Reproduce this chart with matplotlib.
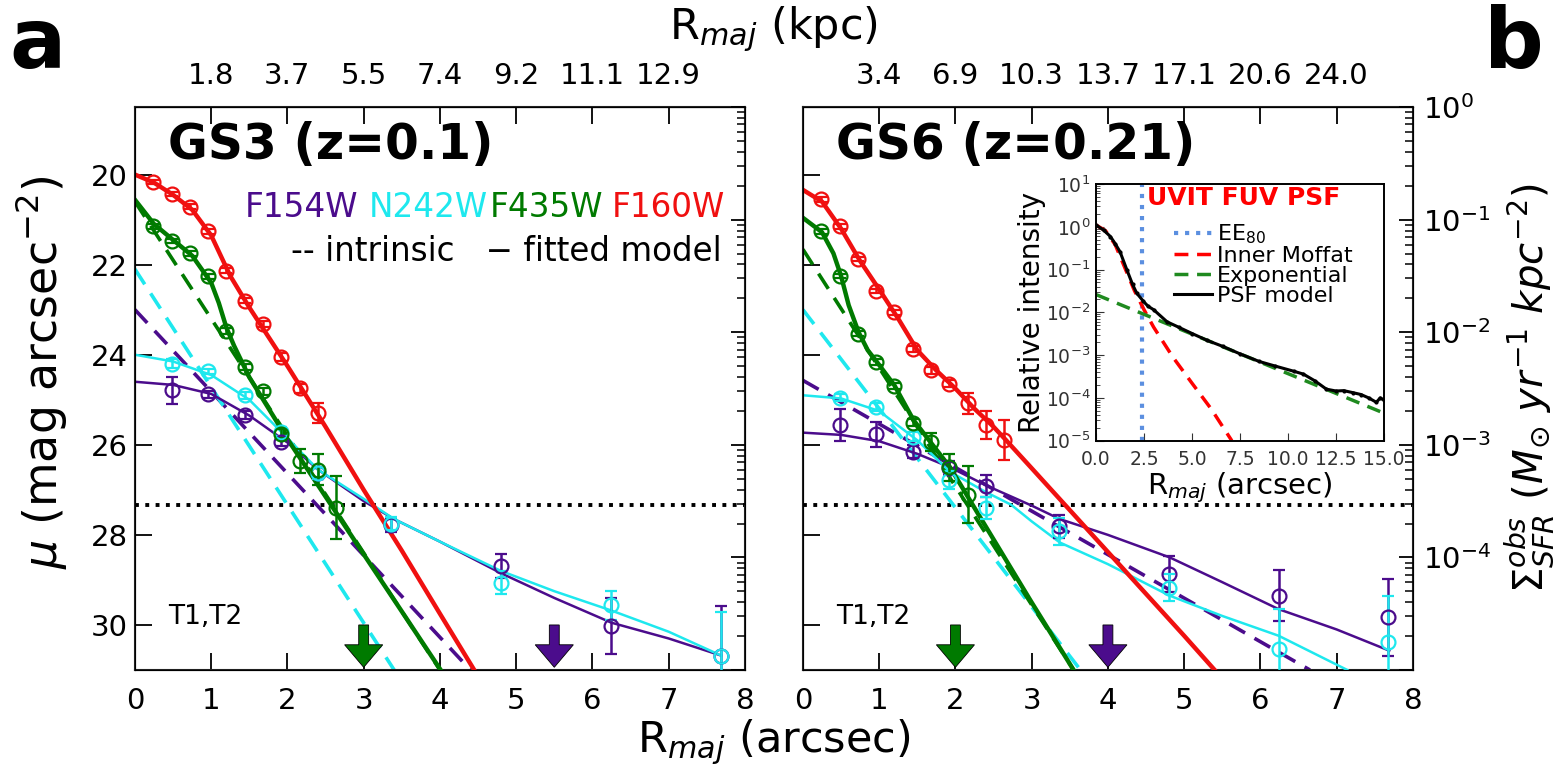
import numpy as np
import matplotlib
matplotlib.use('Agg')
import matplotlib.pyplot as plt
from matplotlib.ticker import FixedLocator, LogLocator, NullFormatter, FormatStrFormatter

plt.rcParams['font.family'] = ['DejaVu Sans']
plt.rcParams['mathtext.fontset'] = 'dejavusans'

PURPLE = '#4b0c8c'
CYAN = '#1ee8ee'
GREEN = '#007a00'
RED = '#f01010'

# ---------------- GS3 (panel a) ----------------
# measured points (optical / IR bins every 0.24", UV bins every 0.48")
gs3_r_opt = [0.24, 0.48, 0.72, 0.96, 1.20, 1.44, 1.68, 1.92, 2.16, 2.40]
gs3_f160w_mu = [20.17, 20.43, 20.71, 21.26, 22.13, 22.80, 23.32, 24.05, 24.74, 25.29]
gs3_f160w_err = [0.05, 0.05, 0.05, 0.05, 0.06, 0.06, 0.07, 0.08, 0.10, 0.22]
gs3_r_b = [0.24, 0.48, 0.72, 0.96, 1.20, 1.44, 1.68, 1.92, 2.16, 2.40, 2.64]
gs3_f435w_mu = [21.15, 21.48, 21.75, 22.26, 23.48, 24.28, 24.81, 25.75, 26.36, 26.55, 27.40]
gs3_f435w_err = [0.05, 0.05, 0.05, 0.06, 0.07, 0.07, 0.08, 0.10, 0.27, 0.35, 0.70]
gs3_r_uv = [0.48, 0.96, 1.44, 1.92, 2.40, 3.36, 4.80, 6.24, 7.68]
gs3_f154w_mu = [24.79, 24.88, 25.34, 25.93, 26.63, 27.79, 28.69, 30.02, 30.68]
gs3_f154w_err = [0.30, 0.08, 0.08, 0.10, 0.12, 0.15, 0.27, 0.62, 1.10]
gs3_n242w_mu = [24.20, 24.37, 24.90, 25.71, 26.63, 27.75, 29.06, 29.56, 30.68]
gs3_n242w_err = [0.10, 0.06, 0.08, 0.10, 0.12, 0.15, 0.25, 0.32, 0.97]

# fitted models (solid)
gs3_f160w_fit_r = [0, 0.25, 0.5, 0.75, 1.0, 1.25, 1.5, 2.0, 2.5, 3.0, 3.5, 4.0, 4.45]
gs3_f160w_fit_mu = [20.0, 20.18, 20.45, 20.78, 21.35, 22.25, 22.95, 24.25, 25.6, 27.0, 28.35, 29.75, 31.0]
gs3_f435w_fit_r = [0, 0.25, 0.5, 0.75, 1.0, 1.1, 1.2, 1.3, 1.5, 2.0, 2.5, 3.0, 3.5, 4.01]
gs3_f435w_fit_mu = [20.56, 21.1, 21.45, 21.8, 22.4, 22.85, 23.4, 23.8, 24.5, 25.87, 27.15, 28.43, 29.7, 31.0]
gs3_n242w_fit_r = [0, 0.5, 1.0, 1.5, 2.0, 2.4, 3.0, 3.4, 4.0, 4.8, 5.5, 6.25, 7.0, 7.69]
gs3_n242w_fit_mu = [24.0, 24.15, 24.45, 25.0, 25.85, 26.55, 27.2, 27.65, 28.15, 28.8, 29.25, 29.68, 30.15, 30.68]
gs3_f154w_fit_r = [0, 0.5, 1.0, 1.5, 2.0, 2.4, 3.0, 3.4, 4.0, 4.8, 5.5, 6.25, 7.0, 7.69]
gs3_f154w_fit_mu = [24.6, 24.67, 24.87, 25.35, 25.95, 26.55, 27.25, 27.65, 28.15, 28.85, 29.4, 29.95, 30.3, 30.68]

# intrinsic models (dashed)
gs3_f435w_int_r = [0, 4.0]
gs3_f435w_int_mu = [20.6, 31.0]
gs3_n242w_int_r = [0, 3.40]
gs3_n242w_int_mu = [22.1, 31.0]
gs3_f154w_int_r = [0, 4.40]
gs3_f154w_int_mu = [23.0, 31.0]

gs3_arrow_x = [3.0, 5.5]
gs3_kpc_labels = ['1.8', '3.7', '5.5', '7.4', '9.2', '11.1', '12.9']

# ---------------- GS6 (panel b) ----------------
gs6_r_opt = [0.24, 0.48, 0.72, 0.96, 1.20, 1.44, 1.68, 1.92, 2.16, 2.40, 2.64]
gs6_f160w_mu = [20.55, 21.15, 21.88, 22.58, 23.06, 23.87, 24.35, 24.64, 25.08, 25.56, 25.89]
gs6_f160w_err = [0.05, 0.05, 0.05, 0.05, 0.06, 0.06, 0.07, 0.08, 0.23, 0.31, 0.44]
gs6_r_b = [0.24, 0.48, 0.72, 0.96, 1.20, 1.44, 1.68, 1.92, 2.16]
gs6_f435w_mu = [21.26, 22.25, 23.53, 24.16, 24.70, 25.51, 25.93, 26.50, 27.11]
gs6_f435w_err = [0.05, 0.05, 0.05, 0.06, 0.07, 0.08, 0.20, 0.30, 0.63]
gs6_r_uv = [0.48, 0.96, 1.44, 1.92, 2.40, 3.36, 4.80, 6.24, 7.68]
gs6_f154w_mu = [25.56, 25.77, 26.15, 26.52, 26.92, 27.81, 28.87, 29.35, 29.83]
gs6_f154w_err = [0.35, 0.27, 0.15, 0.15, 0.25, 0.25, 0.40, 0.57, 0.85]
gs6_n242w_mu = [24.95, 25.16, 25.82, 26.79, 27.40, 27.92, 29.17, 30.53, 30.38]
gs6_n242w_err = [0.08, 0.08, 0.10, 0.20, 0.25, 0.30, 0.30, 0.88, 1.03]

gs6_f160w_fit_r = [0, 0.25, 0.5, 0.75, 1.0, 1.25, 1.5, 1.75, 2.0, 2.25, 2.5, 2.66, 3.0, 3.5, 4.0, 4.5, 5.0, 5.4]
gs6_f160w_fit_mu = [20.34, 20.6, 21.2, 21.92, 22.55, 23.2, 23.9, 24.35, 24.75, 25.2, 25.6, 25.89,
                    26.52, 27.45, 28.38, 29.31, 30.24, 31.0]
gs6_f435w_fit_r = [0, 0.25, 0.4, 0.5, 0.6, 0.73, 0.85, 0.97, 1.2, 1.45, 1.7, 1.93, 2.25, 2.5, 3.0, 3.55]
gs6_f435w_fit_mu = [20.96, 21.28, 21.75, 22.25, 22.9, 23.5, 23.9, 24.16, 24.68, 25.45, 26.0, 26.5,
                    27.4, 28.1, 29.5, 31.0]
gs6_n242w_fit_r = [0, 0.5, 1.0, 1.5, 1.93, 2.4, 2.73, 3.0, 3.37, 4.0, 4.81, 5.5, 6.24, 7.14]
gs6_n242w_fit_mu = [24.9, 24.97, 25.25, 25.9, 26.6, 27.05, 27.33, 27.7, 28.17, 28.65, 29.35, 29.8, 30.24, 31.0]
gs6_f154w_fit_r = [0, 0.5, 1.0, 1.5, 1.93, 2.4, 3.0, 3.37, 4.0, 4.81, 5.5, 6.24, 7.0, 7.69]
gs6_f154w_fit_mu = [25.73, 25.78, 25.92, 26.2, 26.5, 26.9, 27.35, 27.65, 28.0, 28.5, 29.05, 29.65, 30.1, 30.57]

gs6_f435w_int_r = [0, 3.55]
gs6_f435w_int_mu = [21.66, 31.0]
gs6_n242w_int_r = [0, 3.64]
gs6_n242w_int_mu = [23.0, 31.0]
gs6_f154w_int_r = [0, 6.65]
gs6_f154w_int_mu = [24.57, 31.0]

gs6_arrow_x = [2.0, 4.0]
gs6_kpc_labels = ['3.4', '6.9', '10.3', '13.7', '17.1', '20.6', '24.0']

sb_limit = 27.33

# ---------------- inset: UVIT FUV PSF ----------------
psf_r = [0, 0.4, 0.75, 1.0, 1.25, 1.6, 1.9, 2.12, 2.47, 2.7, 3.0, 3.7, 4.3, 5.0, 5.8, 6.6, 7.5,
         8.5, 9.3, 10.3, 10.8, 11.4, 12.0, 12.5, 12.9, 13.4, 13.8, 14.2, 14.6, 14.8, 15.0]
psf_model = [1.1, 0.83, 0.59, 0.40, 0.26, 0.10, 0.045, 0.028, 0.018, 0.014, 0.0115, 6.0e-3,
             4.5e-3, 3.2e-3, 2.2e-3, 1.6e-3, 1.07e-3, 7.1e-4, 5.6e-4, 4.2e-4, 3.6e-4, 2.5e-4,
             1.6e-4, 1.45e-4, 1.48e-4, 1.32e-4, 1.2e-4, 1.0e-4, 7.9e-5, 1.0e-4, 8.9e-5]
moffat_r = [0, 0.5, 1.0, 1.5, 2.0, 2.5, 3.0, 4.0, 5.0, 6.0, 7.07]
moffat_I = [1.1, 0.8, 0.38, 0.11, 0.032, 0.0115, 4.5e-3, 9e-4, 2.2e-4, 5.5e-5, 1.0e-5]
expo_r = [0, 15]
expo_I = [0.026, 4.4e-5]
ee80_r = 2.4


def draw_panel(ax, d, title, arrows, kpc_labels, show_left, show_right):
    # intrinsic (dashed)
    for r, mu, col in d['int']:
        ax.plot(r, mu, ls=(0, (5, 3)), color=col, lw=2.6, zorder=2)
    # fitted models (solid)
    for r, mu, col, lw in d['fit']:
        ax.plot(r, mu, '-', color=col, lw=lw, zorder=3)
    # measurements
    for r, mu, err, col in d['pts']:
        ax.errorbar(r, mu, yerr=err, fmt='o', ms=10, mfc='none', mec=col, mew=1.6,
                    ecolor=col, elinewidth=1.8, capsize=4, capthick=1.8, zorder=4)
    ax.axhline(sb_limit, color='k', ls=':', lw=2.8, zorder=1)
    for x, col in arrows:
        ax.arrow(x, 30.0, 0, 0.94, width=0.13, head_width=0.5, head_length=0.5,
                 length_includes_head=True, fc=col, ec='k', lw=0.6, zorder=5)

    ax.set_xlim(0, 8)
    ax.set_ylim(31, 18.5)
    ax.set_xticks(range(9))
    ax.set_yticks([20, 22, 24, 26, 28, 30])
    ax.tick_params(axis='both', direction='in', length=12, width=1.3, labelsize=21,
                   top=False, right=False, labelleft=show_left)
    ax.tick_params(axis='x', pad=12)
    ax.tick_params(axis='y', pad=5)
    for s in ax.spines.values():
        s.set_linewidth(1.5)
        s.set_color('#222222')

    ax.text(0.43, 19.34, title, fontsize=35, fontweight='bold', va='center', ha='left')
    ax.text(0.43, 29.82, 'T1,T2', fontsize=19, va='center', ha='left')

    sec = ax.secondary_xaxis('top')
    sec.set_xticks(range(1, 8), labels=kpc_labels)
    sec.tick_params(direction='in', length=12, width=1.3, labelsize=21, pad=12)

    tw = ax.twinx()
    tw.set_yscale('log')
    tw.set_ylim(1e-5, 1)
    tw.yaxis.set_major_locator(FixedLocator([1e-5, 1e-4, 1e-3, 1e-2, 1e-1, 1]))
    tw.yaxis.set_minor_locator(LogLocator(base=10, subs=np.arange(2, 10), numticks=20))
    tw.yaxis.set_minor_formatter(NullFormatter())
    tw.tick_params(axis='y', which='major', direction='in', length=10, width=1.3,
                   labelsize=21, pad=7, labelright=show_right)
    tw.tick_params(axis='y', which='minor', direction='in', length=6, width=1.1)
    if show_right:
        labels = ['', r'$10^{-4}$', r'$10^{-3}$', r'$10^{-2}$', r'$10^{-1}$', r'$10^{0}$']
        tw.set_yticklabels(labels)
    return tw


fig = plt.figure(figsize=(15.6, 7.76), dpi=100)
ax1 = fig.add_axes([0.0865, 0.1366, 0.3910, 0.7255])
ax2 = fig.add_axes([0.5147, 0.1366, 0.3910, 0.7255])

gs3 = {
    'int': [(gs3_f154w_int_r, gs3_f154w_int_mu, PURPLE),
            (gs3_n242w_int_r, gs3_n242w_int_mu, CYAN),
            (gs3_f435w_int_r, gs3_f435w_int_mu, GREEN)],
    'fit': [(gs3_f154w_fit_r, gs3_f154w_fit_mu, PURPLE, 1.8),
            (gs3_n242w_fit_r, gs3_n242w_fit_mu, CYAN, 1.8),
            (gs3_f435w_fit_r, gs3_f435w_fit_mu, GREEN, 3.2),
            (gs3_f160w_fit_r, gs3_f160w_fit_mu, RED, 3.2)],
    'pts': [(gs3_r_uv, gs3_f154w_mu, gs3_f154w_err, PURPLE),
            (gs3_r_uv, gs3_n242w_mu, gs3_n242w_err, CYAN),
            (gs3_r_b, gs3_f435w_mu, gs3_f435w_err, GREEN),
            (gs3_r_opt, gs3_f160w_mu, gs3_f160w_err, RED)],
}
gs6 = {
    'int': [(gs6_f154w_int_r, gs6_f154w_int_mu, PURPLE),
            (gs6_n242w_int_r, gs6_n242w_int_mu, CYAN),
            (gs6_f435w_int_r, gs6_f435w_int_mu, GREEN)],
    'fit': [(gs6_f154w_fit_r, gs6_f154w_fit_mu, PURPLE, 1.8),
            (gs6_n242w_fit_r, gs6_n242w_fit_mu, CYAN, 1.8),
            (gs6_f435w_fit_r, gs6_f435w_fit_mu, GREEN, 3.2),
            (gs6_f160w_fit_r, gs6_f160w_fit_mu, RED, 3.2)],
    'pts': [(gs6_r_uv, gs6_f154w_mu, gs6_f154w_err, PURPLE),
            (gs6_r_uv, gs6_n242w_mu, gs6_n242w_err, CYAN),
            (gs6_r_b, gs6_f435w_mu, gs6_f435w_err, GREEN),
            (gs6_r_opt, gs6_f160w_mu, gs6_f160w_err, RED)],
}

draw_panel(ax1, gs3, 'GS3 (z=0.1)', [(gs3_arrow_x[0], GREEN), (gs3_arrow_x[1], PURPLE)],
           gs3_kpc_labels, True, False)
draw_panel(ax2, gs6, 'GS6 (z=0.21)', [(gs6_arrow_x[0], GREEN), (gs6_arrow_x[1], PURPLE)],
           gs6_kpc_labels, False, True)

# filter key (panel a)
for x, name, col in [(1.44, 'F154W', PURPLE), (3.07, 'N242W', CYAN),
                     (4.65, 'F435W', GREEN), (6.26, 'F160W', RED)]:
    ax1.text(x, 20.74, name, color=col, fontsize=23.5, va='center', ha='left')
ax1.text(7.69, 21.7, '-- intrinsic   \u2212 fitted model', fontsize=23.5, va='center', ha='right')

# inset
axi = fig.add_axes([0.7026, 0.4321, 0.1846, 0.3308])
axi.axvline(ee80_r, color='#5b8fe0', ls=':', lw=3, label=r'EE$_{80}$')
axi.plot(moffat_r, moffat_I, color='red', ls=(0, (4, 2.5)), lw=2.5, label='Inner Moffat')
axi.plot(expo_r, expo_I, color='#1f8a1f', ls=(0, (4, 2.5)), lw=2.5, label='Exponential')
axi.plot(psf_r, psf_model, color='k', lw=2.2, label='PSF model')
axi.plot(psf_r, psf_model, 'k.', ms=4)
axi.set_yscale('log')
axi.set_xlim(0, 15)
axi.set_ylim(1e-5, 10)
axi.set_xticks([0, 2.5, 5, 7.5, 10, 12.5, 15])
axi.xaxis.set_major_formatter(FormatStrFormatter('%.1f'))
axi.yaxis.set_major_locator(LogLocator(base=10, numticks=10))
axi.yaxis.set_minor_locator(LogLocator(base=10, subs=np.arange(2, 10), numticks=20))
axi.yaxis.set_minor_formatter(NullFormatter())
axi.tick_params(which='both', direction='in', labelsize=13.5, colors='#333333')
axi.tick_params(which='major', length=6)
axi.tick_params(which='minor', length=3)
axi.tick_params(axis='x', pad=7)
axi.tick_params(axis='y', pad=4)
axi.set_xlabel(r'R$_{maj}$ (arcsec)', fontsize=21, labelpad=1)
axi.set_ylabel('Relative intensity', fontsize=20, labelpad=0)
for s in axi.spines.values():
    s.set_linewidth(1.4)
axi.text(2.65, 4.7, 'UVIT FUV PSF', color='red', fontsize=18, fontweight='bold',
         va='center', ha='left')
axi.legend(loc='upper left', bbox_to_anchor=(0.27, 0.85), frameon=False, fontsize=16,
           handlelength=1.7, handletextpad=0.25, labelspacing=0.0, borderaxespad=0, borderpad=0)

# axis labels and panel letters
fig.text(0.026, 0.52, r'$\mu$ (mag arcsec$^{-2}$)', rotation=90, fontsize=33, ha='center', va='center')
fig.text(0.981, 0.50, r'$\Sigma_{SFR}^{obs}\ (M_{\odot}\ yr^{-1}\ kpc^{-2})$', rotation=90,
         fontsize=29, ha='center', va='center')
fig.text(0.496, 0.962, r'R$_{maj}$ (kpc)', fontsize=31, ha='center', va='center')
fig.text(0.496, 0.043, r'R$_{maj}$ (arcsec)', fontsize=31, ha='center', va='center')
fig.text(0.006, 0.912, 'a', fontsize=60, fontweight='bold', va='baseline')
fig.text(0.951, 0.912, 'b', fontsize=60, fontweight='bold', va='baseline')

fig.savefig('out.png', dpi=100)
